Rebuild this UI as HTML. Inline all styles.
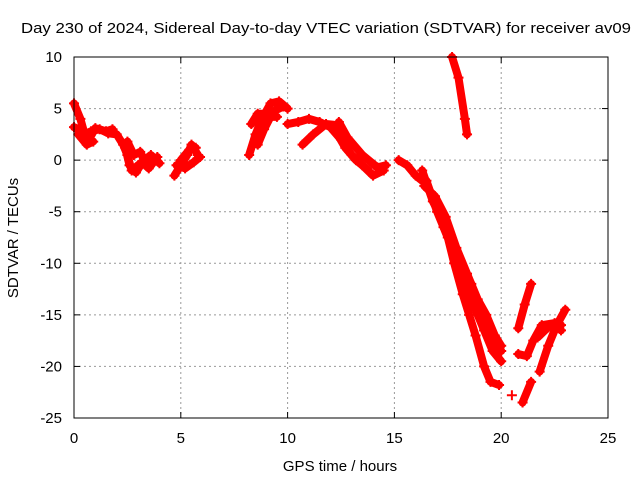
<!DOCTYPE html>
<html><head><meta charset="utf-8"><style>
body{margin:0;background:#fff}
svg{display:block;font-family:"Liberation Sans",sans-serif}
</style></head><body>
<svg id="chart" width="640" height="480">
<rect width="640" height="480" fill="#fff"/>
<text x="326" y="33" font-size="15" text-anchor="middle" textLength="610" lengthAdjust="spacingAndGlyphs">Day 230 of 2024, Sidereal Day-to-day VTEC variation (SDTVAR) for receiver av09</text>
<text x="340" y="471" font-size="15" text-anchor="middle">GPS time / hours</text>
<text transform="translate(18,238) rotate(-90)" font-size="15" text-anchor="middle">SDTVAR / TECUs</text>
<g id="grid"></g><g id="ticks"></g><g id="marks"></g>
<rect x="74" y="57" width="534" height="361" fill="none" stroke="#000" stroke-width="1"/>
</svg>
<script>
const xTicks=[0,5,10,15,20,25];
const yTicks=[10,5,0,-5,-10,-15,-20,-25];
const tracks=[
[[0,5.5],[0.3,4],[0.5,2.5],[0.8,2.8],[1.2,3],[1.6,2.6],[2,2.5],[2.3,1.5],[2.5,0.5],[2.7,-1],[3,-0.5],[3.3,0],[3.6,0.5],[4,-0.3]],
[[0,3.2],[0.4,2.8],[0.7,2],[1,3.1],[1.5,2.8],[1.8,3]],
[[0.2,2.5],[0.6,1.5],[0.9,1.8]],
[[2.4,1.2],[2.6,-0.5],[2.9,-1.2],[3.2,-0.2],[3.5,-0.8],[3.9,0.3]],
[[2.5,1.8],[2.8,0.5],[3.1,0.8],[3.4,-0.5],[3.7,0.2]],
[[4.7,-1.5],[5,-0.5],[5.3,0.5],[5.5,1.5],[5.8,0.5]],
[[4.8,-0.5],[5.2,-0.8],[5.6,-0.2],[5.9,0.3]],
[[5.0,0],[5.4,1],[5.7,1.2]],
[[8.2,0.5],[8.5,2.5],[8.8,4],[9.2,5.5],[9.6,5.7],[10,5]],
[[8.3,3.5],[8.6,4.5],[9,4.5],[9.4,4.8],[9.8,5.2]],
[[8.6,1.5],[8.9,3],[9.2,4.2],[9.5,4.2]],
[[10,3.5],[10.5,3.7],[11,4],[11.5,3.7],[12,3.2],[12.5,2],[13,0.5],[13.5,-0.5],[14,-1.5],[14.5,-1]],
[[12.4,3.7],[12.8,2.2],[13.5,0.5],[14.2,-0.7],[14.6,-0.5]],
[[12.2,3],[12.7,1.2],[13.2,0],[13.8,-1]],
[[10.7,1.5],[11.2,2.5],[11.8,3.5],[12.3,3.4]],
[[15.2,0],[15.6,-0.5],[16,-1.5],[16.3,-2]],
[[16.3,-1],[16.8,-4],[17.3,-6],[17.7,-8],[18,-10],[18.3,-12],[18.8,-14.5],[19.2,-16.5],[19.6,-18.5],[20,-19.5]],
[[16.5,-2],[17,-5],[17.5,-7.5],[17.8,-10],[18.2,-13],[18.5,-15],[18.8,-17],[19.2,-20],[19.5,-21.5],[19.9,-21.8]],
[[17.3,-6.5],[18,-10],[18.6,-12],[19.1,-15.5],[19.6,-17.5],[20,-18.5]],
[[16.4,-2.5],[16.9,-3.5],[17.4,-5.5],[17.9,-8.5],[18.4,-11],[18.9,-13.5],[19.3,-15],[19.7,-17],[20,-18]],
[[17.7,10],[18,8],[18.3,4],[18.4,2.5]],
[[20.8,-16.3],[21.1,-14],[21.4,-12]],
[[20.8,-18.8],[21.2,-19],[21.5,-17.5],[21.9,-16],[22.5,-15.8],[22.8,-16.5]],
[[21.7,-17.2],[22.2,-16.2],[22.8,-16]],
[[21.8,-20.5],[22.2,-18],[22.6,-16],[23,-14.5]],
[[21,-23.5],[21.4,-21.5]],
[[20.5,-22.8]]
];
const X=h=>74+h*(534/25);
const Y=v=>57+(10-v)*(361/35);
const NS="http://www.w3.org/2000/svg";
const grid=document.getElementById('grid'),ticks=document.getElementById('ticks'),marks=document.getElementById('marks');
function mk(tag,attrs,parent){const e=document.createElementNS(NS,tag);for(const k in attrs)e.setAttribute(k,attrs[k]);parent.appendChild(e);return e;}
xTicks.forEach(t=>{const x=X(t);
 if(t>0&&t<25){const g=mk('line',{x1:x,x2:x,y1:57,y2:418,stroke:'#999','stroke-dasharray':'2,3'},grid);
 }
 mk('line',{x1:x,x2:x,y1:418,y2:412,stroke:'#000'},ticks);mk('line',{x1:x,x2:x,y1:57,y2:63,stroke:'#000'},ticks);
 const l=mk('text',{x:x,y:443,'font-size':15,'text-anchor':'middle'},ticks);l.textContent=t;
 });
yTicks.forEach(t=>{const y=Y(t);
 if(t<10&&t>-25){const g=mk('line',{x1:74,x2:608,y1:y,y2:y,stroke:'#999','stroke-dasharray':'2,3'},grid);
 }
 mk('line',{x1:74,x2:80,y1:y,y2:y,stroke:'#000'},ticks);mk('line',{x1:602,x2:608,y1:y,y2:y,stroke:'#000'},ticks);
 const l=mk('text',{x:62,y:y+5,'font-size':15,'text-anchor':'end'},ticks);l.textContent=t;
 });
tracks.forEach(tr=>{
 const g=mk('g',{},marks);
 
 
 if(tr.length>1){mk('polyline',{points:tr.map(p=>X(p[0])+','+Y(p[1])).join(' '),fill:'none',stroke:'#f00','stroke-width':8,'stroke-linejoin':'round','stroke-linecap':'round'},g);}
 tr.forEach(p=>{const x=X(p[0]),y=Y(p[1]);
  mk('path',{d:`M${x-5},${y}h10M${x},${y-5}v10`,stroke:'#f00','stroke-width':2},g);});
});
</script>
</body></html>
